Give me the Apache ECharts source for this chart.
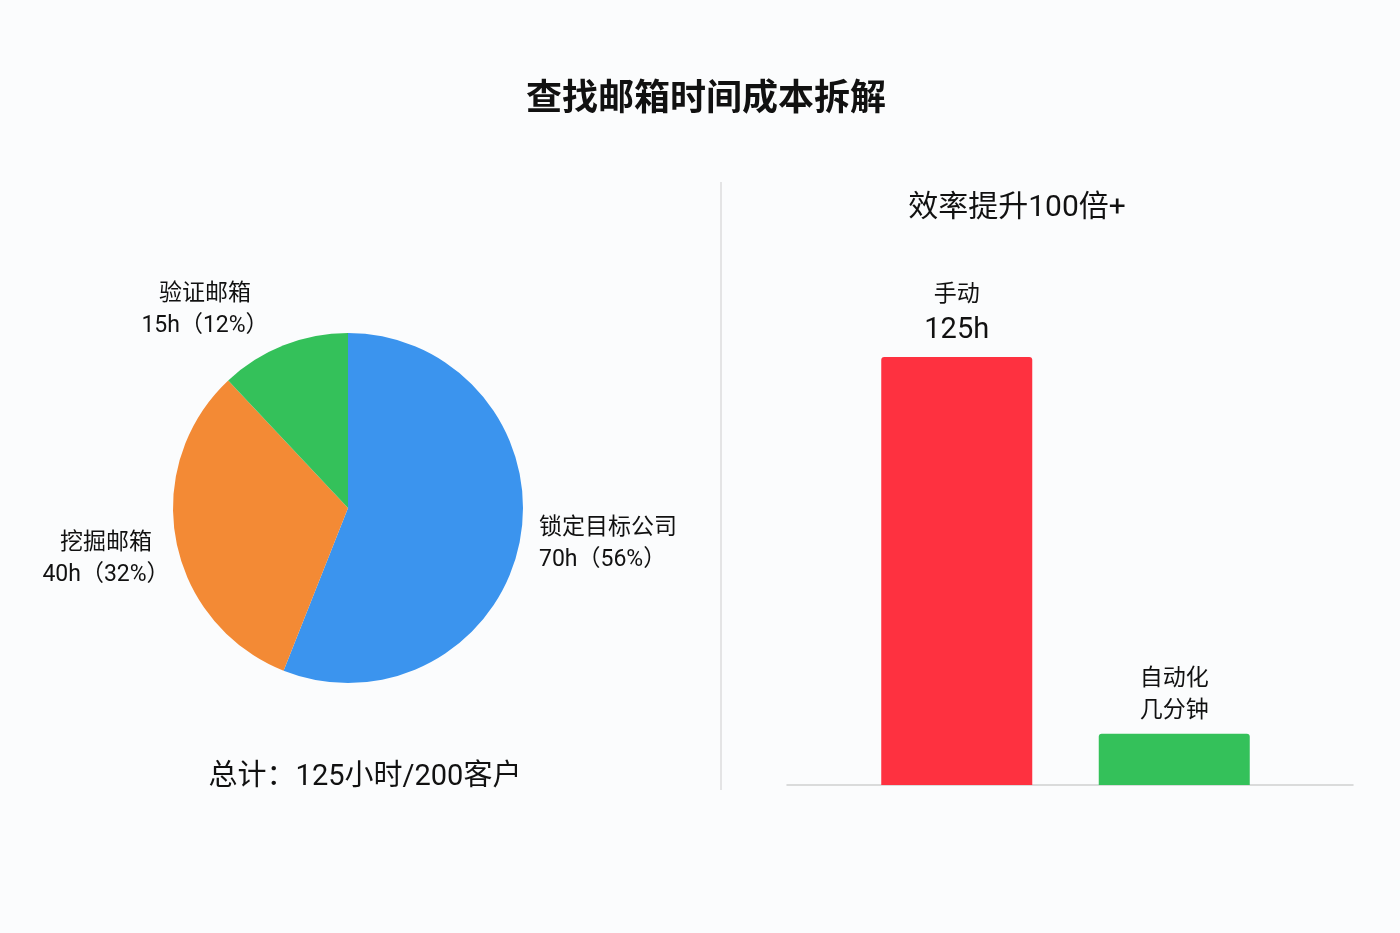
<!DOCTYPE html>
<html>
  <head>
    <meta charset="utf-8" />
    <title>ECharts</title>
    <style type="text/css">
      html, body { margin: 0; padding: 0; background: #fbfcfd; }
      #main { width: 1400px; height: 933px; }
    </style>
    <script type="text/javascript" src="https://cdn.jsdelivr.net/npm/echarts@6.0.0/dist/echarts.min.js"></script>
  </head>
  <body>
    <div id="main"></div>
    <script type="text/javascript">
    // 饼图数据（小时）
    var pieNames = ['锁定目标公司', '挖掘邮箱', '验证邮箱'];
    var pieHours = [70, 40, 15];
    var pieColors = ['#3b94ee', '#f38a35', '#34c15a'];

    // 柱状图数据
    var barNames = ['手动', '自动化'];
    var barValues = [125, 15];
    var barTexts = ['125h', '几分钟'];
    var barColors = ['#fe3140', '#34c15a'];

    var font = 'Roboto, "Noto Sans CJK SC", sans-serif';

    var dom = document.getElementById('main');
    var myChart = echarts.init(dom);
    var option;

    option = {
      backgroundColor: '#fbfcfd',
      textStyle: { fontFamily: font },
      title: [
        {
          text: '查找邮箱时间成本拆解',
          left: 701, top: 78, textAlign: 'center',
          textStyle: { fontSize: 36, fontWeight: 'bold', color: '#111', fontFamily: font }
        },
        {
          text: '效率提升100倍+',
          left: 1012, top: 189, textAlign: 'center',
          textStyle: { fontSize: 30, fontWeight: 'normal', color: '#111', fontFamily: font }
        },
        {
          text: '总计：125小时/200客户',
          left: 360, top: 758, textAlign: 'center',
          textStyle: { fontSize: 29, fontWeight: 'normal', color: '#111', fontFamily: font }
        }
      ],
      graphic: [
        {
          type: 'line',
          shape: { x1: 721, y1: 182, x2: 721, y2: 790 },
          style: { stroke: '#dcdcdc', lineWidth: 1.5 }
        }
      ],
      grid: [
        { left: 848, right: 117, top: 357, bottom: 148 },
        { left: 787, right: 47, top: 357, bottom: 148 }
      ],
      xAxis: [
        {
          type: 'category', gridIndex: 0, data: barNames,
          axisLine: { show: false }, axisTick: { show: false }, axisLabel: { show: false }
        },
        {
          type: 'value', gridIndex: 1, min: 0, max: 1,
          axisLine: { show: true, lineStyle: { color: '#d0d0d0', width: 1.5 } },
          axisTick: { show: false }, axisLabel: { show: false }, splitLine: { show: false }
        }
      ],
      yAxis: [
        { type: 'value', gridIndex: 0, min: 0, max: 125, show: false, splitLine: { show: false } },
        { type: 'value', gridIndex: 1, min: 0, max: 1, show: false, splitLine: { show: false } }
      ],
      series: [
        {
          type: 'pie',
          center: [348, 508],
          radius: 175,
          startAngle: 90,
          clockwise: true,
          silent: true,
          data: pieNames.map(function (n, i) {
            return { name: n, value: pieHours[i], itemStyle: { color: pieColors[i] } };
          }),
          label: {
            show: true,
            position: 'outside',
            overflow: 'none',
            formatter: '{a|{b}}\n{a|{c}h（{d}%）}',
            rich: {
              a: { fontSize: 23, lineHeight: 32, color: '#111', fontFamily: font }
            }
          },
          labelLine: { show: false },
          labelLayout: function (params) {
            var i = params.dataIndex;
            if (i === 0) return { x: 539, y: 544, align: 'left', verticalAlign: 'middle' };
            if (i === 1) return { x: 106, y: 559, align: 'center', verticalAlign: 'middle' };
            return { x: 205, y: 310, align: 'center', verticalAlign: 'middle' };
          }
        },
        {
          type: 'bar',
          xAxisIndex: 0, yAxisIndex: 0,
          barWidth: 151,
          silent: true,
          data: barValues.map(function (v, i) {
            return {
              value: v,
              itemStyle: { color: barColors[i], borderRadius: [3, 3, 0, 0] },
              label: {
                formatter: i === 0 ? '{a|' + barNames[i] + '}\n{b|' + barTexts[i] + '}'
                                   : '{a|' + barNames[i] + '}\n{a|' + barTexts[i] + '}'
              }
            };
          }),
          label: {
            show: true,
            position: 'top',
            distance: 6,
            rich: {
              a: { fontSize: 23, lineHeight: 32, color: '#111', fontFamily: font },
              b: { fontSize: 29, lineHeight: 40, color: '#111', fontFamily: font }
            }
          }
        }
      ]
    };

    if (option && typeof option === 'object') {
        myChart.setOption(option);
    }
    </script>
  </body>
</html>
